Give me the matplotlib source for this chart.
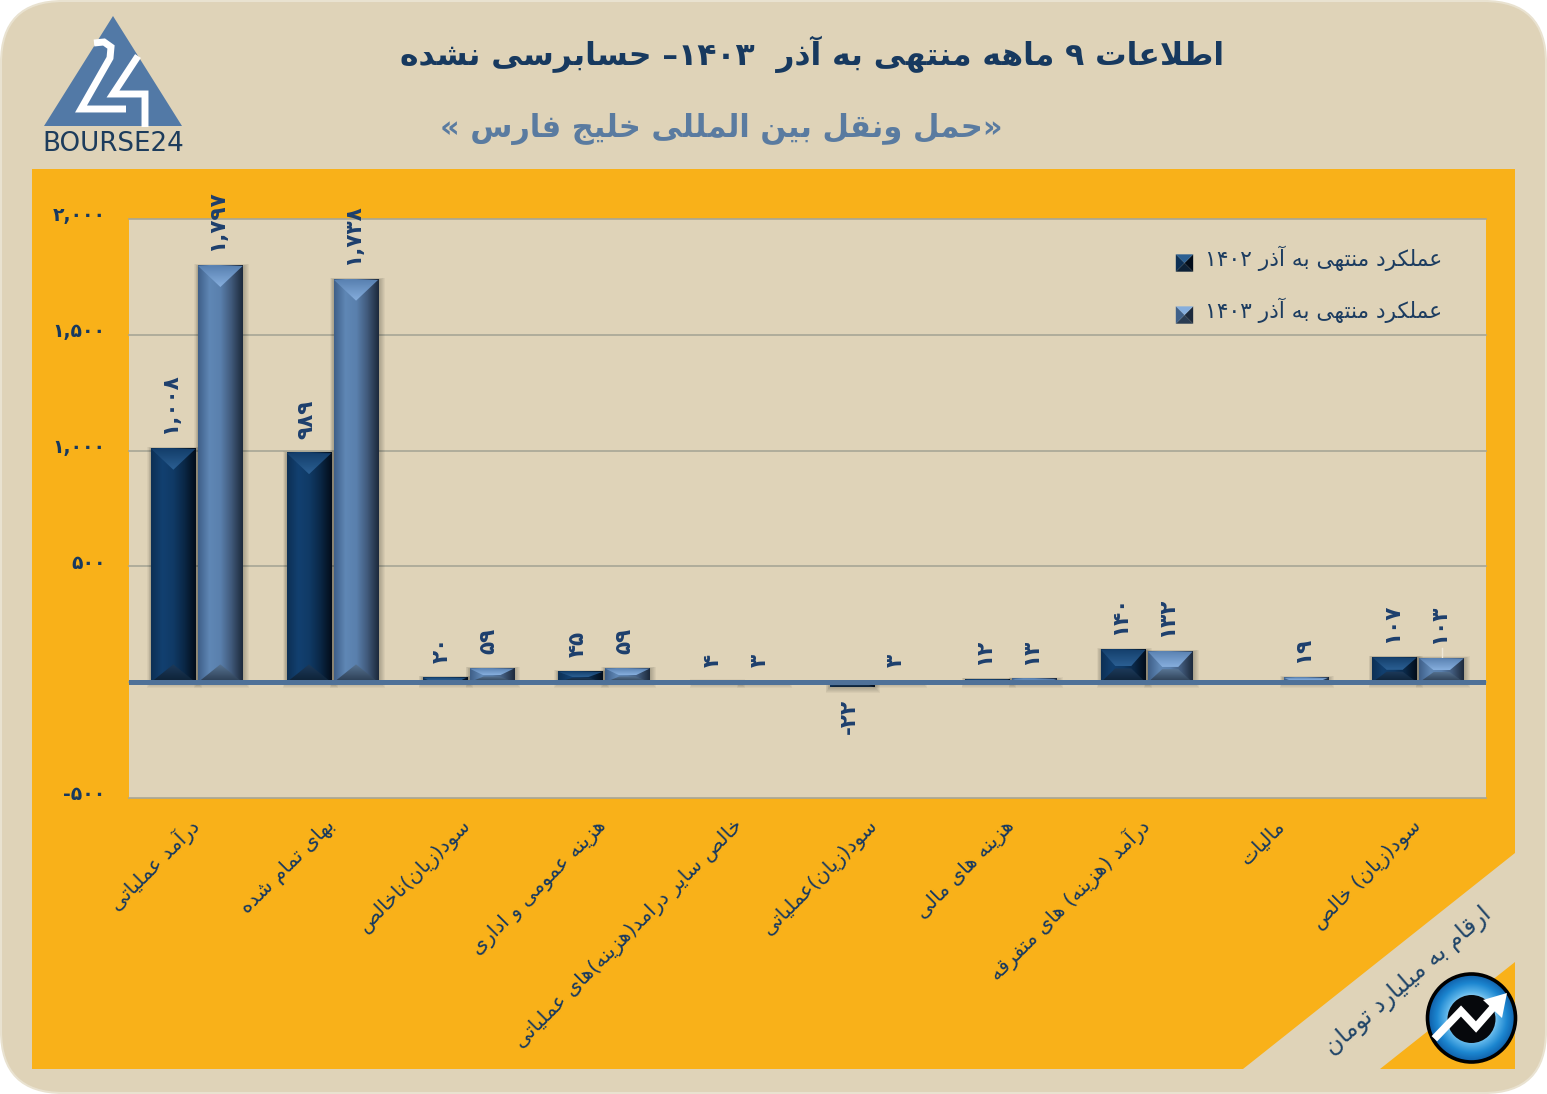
import re
import numpy as np
import matplotlib
matplotlib.use("Agg")
import matplotlib.pyplot as plt
from matplotlib.patches import Polygon, Rectangle, FancyBboxPatch, Circle, Patch
from matplotlib.colors import LinearSegmentedColormap
from matplotlib.legend_handler import HandlerBase
from matplotlib.transforms import ScaledTranslation

# ---------- data ----------
categories = ["درآمد عملیاتی", "بهای تمام شده", "سود(زیان)ناخالص", "هزینه عمومی و اداری",
              "خالص سایر درامد(هزینه)های عملیاتی", "سود(زیان)عملیاتی", "هزینه های مالی",
              "درآمد (هزینه) های متفرقه", "مالیات", "سود(زیان) خالص"]
values_1402 = [1008, 989, 20, 45, 4, -22, 12, 140, None, 107]
values_1403 = [1797, 1738, 59, 59, 3, 3, 13, 132, 19, 103]
y_ticks = [-500, 0, 500, 1000, 1500, 2000]
y_tick_labels = ["-500", "", "500", "1,000", "1,500", "2,000"]
legend_1402 = "عملکرد منتهی به آذر ۱۴۰۲"
legend_1403 = "عملکرد منتهی به آذر ۱۴۰۳"
title_text = "اطلاعات ۹ ماهه منتهی به آذر  ۱۴۰۳– حسابرسی نشده"
subtitle_text = "«حمل ونقل بین المللی خلیج فارس »"
note_text = "ارقام به میلیارد تومان"

# ---------- Persian shaping (matplotlib has no bidi / joining) ----------
def _r(a, n=4):
    return tuple(chr(a + i) for i in range(n))
FORMS = {'ب': _r(0xFE8F), 'پ': _r(0xFB56), 'ت': _r(0xFE95), 'ث': _r(0xFE99), 'ج': _r(0xFE9D),
         'چ': _r(0xFB7A), 'ح': _r(0xFEA1), 'خ': _r(0xFEA5), 'س': _r(0xFEB1), 'ش': _r(0xFEB5),
         'ص': _r(0xFEB9), 'ض': _r(0xFEBD), 'ط': _r(0xFEC1), 'ظ': _r(0xFEC5), 'ع': _r(0xFEC9),
         'غ': _r(0xFECD), 'ف': _r(0xFED1), 'ق': _r(0xFED5), 'ک': _r(0xFB8E), 'گ': _r(0xFB92),
         'ل': _r(0xFEDD), 'م': _r(0xFEE1), 'ن': _r(0xFEE5), 'ه': _r(0xFEE9), 'ی': _r(0xFBFC),
         'ا': _r(0xFE8D, 2), 'آ': _r(0xFE81, 2), 'د': _r(0xFEA9, 2), 'ذ': _r(0xFEAB, 2),
         'ر': _r(0xFEAD, 2), 'ز': _r(0xFEAF, 2), 'ژ': _r(0xFB8A, 2), 'و': _r(0xFEED, 2)}
LAM_ALEF = {'ا': ('\uFEFB', '\uFEFC'), 'آ': ('\uFEF5', '\uFEF6')}
PERSIAN = str.maketrans("0123456789", "۰۱۲۳۴۵۶۷۸۹")
MIRROR = str.maketrans({"(": ")", ")": "(", "\u00ab": "\u00bb", "\u00bb": "\u00ab"})

def shape(s):
    s = s.translate(PERSIAN)
    out, i = [], 0
    while i < len(s):
        c = s[i]
        if c not in FORMS:
            out.append(c); i += 1; continue
        prev = s[i - 1] if i else ''
        joins_prev = prev in FORMS and len(FORMS[prev]) == 4
        if c == 'ل' and i + 1 < len(s) and s[i + 1] in LAM_ALEF:
            out.append(LAM_ALEF[s[i + 1]][1 if joins_prev else 0]); i += 2; continue
        nxt = s[i + 1] if i + 1 < len(s) else ''
        joins_next = len(FORMS[c]) == 4 and nxt in FORMS
        f = FORMS[c]
        out.append(f[3] if joins_prev and joins_next else f[1] if joins_prev else f[2] if joins_next else f[0])
        i += 1
    vis = ''.join(out)[::-1].translate(MIRROR)
    return re.sub(r"[۰-۹][۰-۹,]*", lambda m: m.group(0)[::-1], vis)

def num(v):
    return f"{v:,}".translate(PERSIAN)

# ---------- figure ----------
W, H = 1547, 1094
plt.rcParams['font.family'] = ['DejaVu Sans']
fig = plt.figure(figsize=(W / 100, H / 100), dpi=100, facecolor="white")
BEIGE, ORANGE = "#dfd3b8", "#f9b119"
NAVY, STEEL = "#17395f", "#5a7ba0"

bg = fig.add_axes([0, 0, 1, 1], zorder=0)
bg.set_axis_off()
bg.add_patch(FancyBboxPatch((1, 1), W - 2, H - 2, boxstyle="round,pad=0,rounding_size=62",
                            fc=BEIGE, ec="#e9e2d0", lw=1.5))
bg.add_patch(Polygon([(32, 169), (1515, 169), (1515, 853), (1243, 1069), (32, 1069)], fc=ORANGE, ec="none"))
bg.add_patch(Polygon([(1515, 962), (1515, 1069), (1380, 1069)], fc=ORANGE, ec="none"))

# logo
bg.add_patch(Polygon([(113, 16), (44, 126), (182, 126)], fc="#5279a6", ec="none"))
bg.plot([94, 104, 111, 110, 81, 126], [43, 42, 47, 58, 109, 109], color="white", lw=5,
        solid_joinstyle="miter", solid_capstyle="butt")
bg.plot([138, 113, 145, 145], [56, 94, 94, 127], color="white", lw=5,
        solid_joinstyle="miter", solid_capstyle="butt")
bg.text(113, 144, "BOURSE24", ha="center", va="center", fontsize=18.8, color="#1d3c5c")

# titles
bg.text(812, 54, shape(title_text), ha="center", va="center", fontsize=22.6, fontweight="bold", color=NAVY)
bg.text(721, 129, shape(subtitle_text), ha="center", va="center", fontsize=22, fontweight="bold", color=STEEL)
bg.text(1408, 981, shape(note_text), ha="center", va="center", rotation=41, fontsize=17, color="#1f4468")

# badge
cx, cy, cr = 1471.5, 1018, 44
yy, xx = np.mgrid[-1:1:200j, -1:1:200j]
rr = np.sqrt(xx ** 2 + yy ** 2)
badge_cmap = LinearSegmentedColormap.from_list("b", ["#bfe6fa", "#59b2e8", "#1c86d0", "#0f5ea8"])
im = bg.imshow(rr, cmap=badge_cmap, vmin=0.4, vmax=1, extent=(cx - cr, cx + cr, cy + cr, cy - cr), zorder=3)
im.set_clip_path(Circle((cx, cy), cr, transform=bg.transData))
bg.add_patch(Circle((cx, cy), cr, fc="none", ec="black", lw=2.6, zorder=4))
bg.add_patch(Circle((cx, cy + 1), 24, fc="#06080c", ec="none", zorder=4))
bg.plot([1437, 1461, 1476, 1497], [1036, 1011, 1027, 1003], color="white", lw=5.5,
        solid_joinstyle="miter", zorder=5)
bg.add_patch(Polygon([(1507, 993), (1483, 1000), (1502, 1018)], fc="white", ec="none", zorder=5))
bg.set_xlim(0, W)
bg.set_ylim(H, 0)

# ---------- chart ----------
ax = fig.add_axes([129 / W, 1 - 798 / H, (1486 - 129) / W, (798 - 219) / H], zorder=2)
ax.set_facecolor(BEIGE)
for s in ax.spines.values():
    s.set_visible(False)
ax.set_xlim(-0.5, 9.5)
ax.set_ylim(-500, 2000)
PXX = 1357 / 10.0          # pixels per category
PXY = 579 / 2500.0         # pixels per unit
x = np.arange(len(categories))
BW = 44.5 / PXX
OFF = 23.5 / PXX

ax.set_yticks(y_ticks)
ax.set_yticklabels([t.translate(PERSIAN) for t in y_tick_labels], fontsize=13.5, fontweight="bold", color=NAVY)
ax.tick_params(axis="y", length=0, pad=17)
ax.grid(axis="y", color="#a7a696", lw=1.2, zorder=0)
ax.set_axisbelow(True)
for g in ax.get_ygridlines():
    g.set_clip_on(False)
ytrans = ScaledTranslation(0, 5 / 100, fig.dpi_scale_trans)
for t in ax.get_yticklabels():
    t.set_transform(t.get_transform() + ytrans)

ax.set_xticks(x)
ax.set_xticklabels([shape(c) for c in categories], rotation=45, ha="right", va="center",
                   rotation_mode="anchor", fontsize=14.6, color=NAVY)
ax.tick_params(axis="x", length=0, pad=18)

STYLES = [
    dict(grad=["#0d3055", "#124070", "#103a66", "#0a2745", "#030d1a"], top=("#143f6c", "#2b5f92"),
         bot=("#1d3a5a", "#0d2136"), base="#124070"),
    dict(grad=["#3f6089", "#5f87b5", "#5a80ad", "#40597a", "#1d2a3c"], top=("#5a82b2", "#86aedd"),
         bot=("#587492", "#2a3c52"), base="#5a80ad"),
]

def grad_poly(pts, c_top, c_bottom, z=2.2):
    """Vertical gradient fill clipped to a polygon."""
    xs, ys = zip(*pts)
    if max(ys) - min(ys) <= 0:
        return
    cmap = LinearSegmentedColormap.from_list("p", [c_top, c_bottom])
    img = ax.imshow(np.linspace(0, 1, 32)[:, None], cmap=cmap, aspect="auto", zorder=z,
                    extent=(min(xs), max(xs), min(ys), max(ys)), interpolation="bilinear")
    img.set_clip_path(Polygon(pts, transform=ax.transData))

def draw_series(xpos, vals, st):
    for xi, v in zip(xpos, vals):
        if v is None:
            continue
        lo, hi = min(0, v), max(0, v)
        left, right = xi - BW / 2, xi + BW / 2
        # soft shadow
        for k in range(1, 7):
            ex, ey = (k + 0.2) / PXX, (k + 0.2) / PXY
            ax.add_patch(Rectangle((left - ex * 0.6, lo - ey * 1.0), BW + ex * 1.6, hi - lo + ey * 1.3,
                                   fc="black", ec="none", alpha=0.04, zorder=1.5))
        ax.bar(xi, v, width=BW, color=st["base"], zorder=2)
        # horizontal gradient + bevels
        cmap = LinearSegmentedColormap.from_list("g", st["grad"])
        ax.imshow(np.linspace(0, 1, 64)[None, :], cmap=cmap, aspect="auto", zorder=2.1,
                  extent=(left, right, lo, hi), interpolation="bilinear")
        hpx = (hi - lo) * PXY
        dv = min(21, hpx * 0.5) / PXY
        ins = BW / 2 if hpx >= 40 else BW * 0.32 if hpx >= 8 else BW * 0.12
        grad_poly([(left, hi), (right, hi), (right - ins, hi - dv), (left + ins, hi - dv)], *st["top"])
        grad_poly([(left, lo), (right, lo), (right - ins, lo + dv * 0.85), (left + ins, lo + dv * 0.85)],
                  st["bot"][0], st["bot"][1])
        # value label
        ax.annotate(num(v), (xi, v), xytext=(-2.2, 10.5 if v >= 0 else -8), textcoords="offset points",
                    rotation=90, ha="center", va="bottom" if v >= 0 else "top",
                    fontsize=15.5, fontweight="bold", color="#1d3f6d", zorder=5)

draw_series(x - OFF, values_1402, STYLES[0])
draw_series(x + OFF, values_1403, STYLES[1])

# faint leader above the last bar
ax.plot([x[-1] + OFF] * 2, [values_1403[-1], values_1403[-1] + 45], color="#efe8d8", lw=1, zorder=1.8)

ax.axhline(0, color="#4f7198", lw=3.6, zorder=3)
ax.set_xlim(-0.5, 9.5)
ax.set_ylim(-500, 2000)

# legend with bevelled squares
class BevelHandler(HandlerBase):
    def __init__(self, st):
        super().__init__()
        self.st = st
    def create_artists(self, legend, orig, xd, yd, w, h, fs, trans):
        s = 12.5
        x0, y0 = xd * -1 + w - s, -yd + (h - s) / 2 - 3.5
        c = (x0 + s / 2, y0 + s / 2)
        a, b, d, e = (x0, y0), (x0 + s, y0), (x0 + s, y0 + s), (x0, y0 + s)
        st = self.st
        return [Polygon([a, b, c], fc=st["bot"][1], transform=trans),
                Polygon([b, d, c], fc=st["grad"][4], transform=trans),
                Polygon([d, e, c], fc=st["top"][1], transform=trans),
                Polygon([e, a, c], fc=st["grad"][0], transform=trans)]

h1, h2 = Patch(label=shape(legend_1402)), Patch(label=shape(legend_1403))
leg = ax.legend(handles=[h1, h2], handler_map={h1: BevelHandler(STYLES[0]), h2: BevelHandler(STYLES[1])},
                loc="upper left", bbox_to_anchor=((1167 - 129) / 1357, 1 - (241 - 219) / 579),
                frameon=False, fontsize=15.7, labelcolor="#1c3c60", labelspacing=1.22,
                handlelength=1.0, handletextpad=0.56, borderpad=0.2, borderaxespad=0)
leg.set_zorder(6)

fig.savefig("out.png", dpi=100, facecolor=fig.get_facecolor())
